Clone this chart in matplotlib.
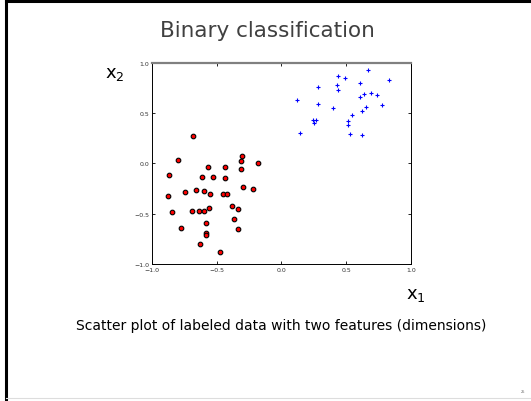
import matplotlib
matplotlib.use('Agg')
import matplotlib.pyplot as plt
from matplotlib.lines import Line2D

# class 1 (red circles)
red_x = [-0.679, -0.795, -0.867, -0.564, -0.610, -0.528, -0.433, -0.433, -0.303, -0.310,
         -0.310, -0.177, -0.877, -0.741, -0.662, -0.597, -0.551, -0.451, -0.423, -0.297,
         -0.218, -0.844, -0.690, -0.636, -0.597, -0.559, -0.382, -0.338, -0.777, -0.582,
         -0.367, -0.333, -0.582, -0.579, -0.626, -0.472]
red_y = [0.272, 0.030, -0.120, -0.033, -0.133, -0.133, -0.040, -0.150, 0.070, 0.027,
         -0.056, 0.003, -0.326, -0.286, -0.266, -0.272, -0.302, -0.302, -0.302, -0.239,
         -0.256, -0.488, -0.475, -0.478, -0.475, -0.442, -0.425, -0.458, -0.638, -0.595,
         -0.555, -0.648, -0.688, -0.714, -0.797, -0.884]

# class 2 (blue plus)
blue_x = [0.672, 0.433, 0.490, 0.828, 0.605, 0.426, 0.282, 0.438, 0.641, 0.695,
          0.736, 0.605, 0.123, 0.282, 0.777, 0.651, 0.397, 0.623, 0.544, 0.244,
          0.264, 0.254, 0.510, 0.515, 0.144, 0.533, 0.623]
blue_y = [0.927, 0.874, 0.854, 0.831, 0.801, 0.777, 0.757, 0.734, 0.691, 0.701,
          0.678, 0.664, 0.628, 0.588, 0.585, 0.561, 0.548, 0.518, 0.482, 0.429,
          0.429, 0.402, 0.419, 0.385, 0.299, 0.289, 0.282]

ticks = [-1.0, -0.5, 0.0, 0.5, 1.0]

fig = plt.figure(figsize=(5.31, 4.02), dpi=100)
fig.patch.set_facecolor('white')

# slide frame
fig.add_artist(Line2D([0.012, 0.012], [0, 1], color='black', lw=2.2))
fig.add_artist(Line2D([0.012, 1], [0.996, 0.996], color='black', lw=2.2))
fig.add_artist(Line2D([0.012, 1], [0.008, 0.008], color='#dddddd', lw=0.8))

ax = fig.add_axes([0.286, 0.341, 0.488, 0.500])
ax.scatter(red_x, red_y, s=11, c='red', edgecolors='black', linewidths=0.8, zorder=3)
ax.scatter(blue_x, blue_y, s=10, c='blue', marker='+', linewidths=0.8, zorder=3)
ax.set_xlim(-1, 1)
ax.set_ylim(-1, 1)
ax.set_xticks(ticks)
ax.set_yticks(ticks)
ax.tick_params(direction='in', length=2.5, width=0.6, labelsize=4.5, labelcolor='#333333',
               top=True, right=True, pad=2)
for s in ['left', 'right', 'bottom']:
    ax.spines[s].set_linewidth(0.7)
ax.spines['top'].set_color('#808080')
ax.spines['top'].set_linewidth(1.6)

fig.text(0.503, 0.924, 'Binary classification', ha='center', va='center',
         fontsize=15.5, color='#404040')
fig.text(0.217, 0.815, r'x$_2$', ha='center', va='center', fontsize=13)
fig.text(0.783, 0.265, r'x$_1$', ha='center', va='center', fontsize=13)
fig.text(0.530, 0.188, 'Scatter plot of labeled data with two features (dimensions)',
         ha='center', va='center', fontsize=10)
fig.text(0.985, 0.025, '25', ha='center', va='center', fontsize=2.5, color='#666666')

fig.savefig('out.png', dpi=100)
